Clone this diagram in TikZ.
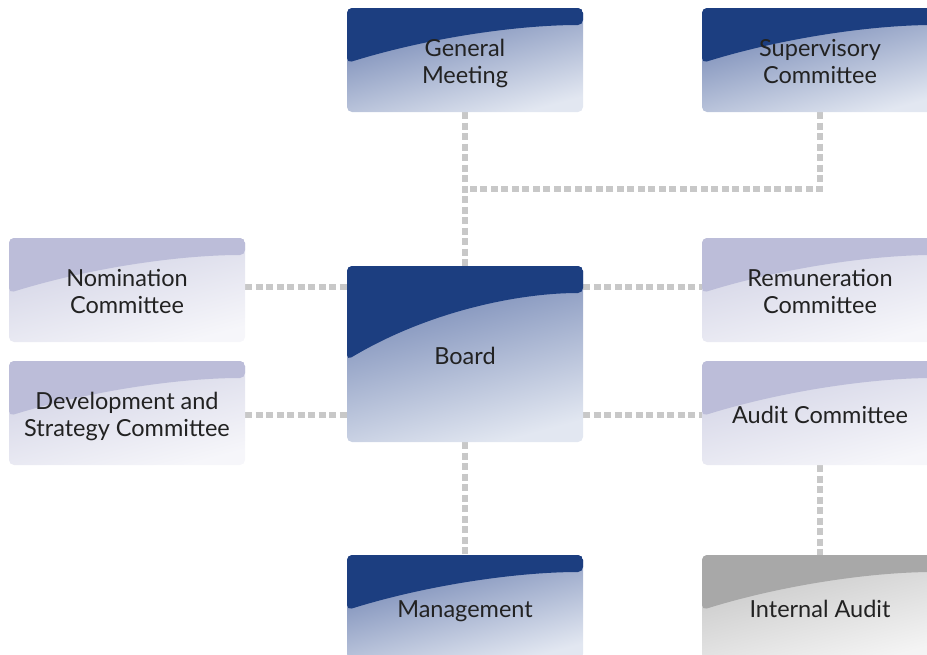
\documentclass[tikz,border=0pt]{standalone}
\usepackage{fontspec}
\setmainfont{Lato}
\usetikzlibrary{calc,backgrounds}
\definecolor{darkband}{RGB}{28,62,128}
\definecolor{darktop}{RGB}{108,128,176}
\definecolor{darkbot}{RGB}{226,231,241}
\definecolor{lightband}{RGB}{188,189,217}
\definecolor{lighttop}{RGB}{208,209,228}
\definecolor{lightbot}{RGB}{246,246,250}
\definecolor{grayband}{RGB}{168,168,168}
\definecolor{graytop}{RGB}{196,196,196}
\definecolor{graybot}{RGB}{244,244,244}
\definecolor{conncol}{RGB}{200,200,200}
\definecolor{txt}{RGB}{34,34,34}
\newcommand\boxtxt[1]{\vbox{\kern9pt\hbox{\begin{tabular}{@{}c@{}}#1\end{tabular}}}}
\tikzset{
  boxbase/.style={rectangle, rounded corners=5pt, minimum width=236pt, minimum height=104pt,
    inner sep=0pt, text=txt, font=\fontsize{23.5}{27.5}\selectfont},
  band/.style n args={4}{path picture={
    \fill[#1] (path picture bounding box.north west) -- (path picture bounding box.north east)
      -- ($(path picture bounding box.north east)+(0,#3)$)
      .. controls ($(path picture bounding box.north east)+(-66,#3)$)
      and ($(path picture bounding box.north west)+(80,#4)$)
      .. ($(path picture bounding box.north west)+(0,#2)$) -- cycle;}},
  darkbox/.style={boxbase, top color=darktop, bottom color=darkbot, shading angle=15,
    band={darkband}{55}{17}{30}},
  lightbox/.style={boxbase, top color=lighttop, bottom color=lightbot, shading angle=15,
    band={lightband}{55}{17}{30}},
  graybox/.style={boxbase, top color=graytop, bottom color=graybot, shading angle=15,
    band={grayband}{55}{17}{30}},
  conn/.style={draw=conncol, line width=6.5pt, dash pattern=on 7pt off 3.5pt}
}
\begin{document}
\begin{tikzpicture}[x=1pt,y=-1pt]
\path[use as bounding box] (0,0) rectangle (927,654);
\begin{scope}
\clip (0,0) rectangle (927,654);
\node[darkbox] (gm) at (465,60) {\boxtxt{General\\Meeting}};
\node[darkbox] (sup) at (820,60) {\boxtxt{Supervisory\\Committee}};
\node[lightbox] (nom) at (127,290) {\boxtxt{Nomination\\Committee}};
\node[lightbox] (dev) at (127,413) {\boxtxt{Development and\\Strategy Committee}};
\node[darkbox, minimum height=176pt, band={darkband}{94}{27}{46}] (board) at (465,354) {\boxtxt{Board}};
\node[lightbox] (rem) at (820,290) {\boxtxt{Remuneration\\Committee}};
\node[lightbox] (aud) at (820,413) {\boxtxt{Audit Committee}};
\node[darkbox] (mgmt) at (465,607) {\boxtxt{Management}};
\node[graybox] (ia) at (820,607) {\boxtxt{Internal Audit}};
\coordinate (junc) at (465,189);
\end{scope}
\begin{scope}[on background layer]
\draw[conn] (gm.south) -- (board.north);
\draw[conn] (sup.south) |- (junc);
\draw[conn] ([yshift=3pt]nom.east) -- ([yshift=3pt]nom.east -| board.west);
\draw[conn] ([yshift=-2pt]dev.east) -- ([yshift=-2pt]dev.east -| board.west);
\draw[conn] ([yshift=3pt]rem.west -| board.east) -- ([yshift=3pt]rem.west);
\draw[conn] ([yshift=-2pt]aud.west -| board.east) -- ([yshift=-2pt]aud.west);
\draw[conn] (board.south) -- (mgmt.north);
\draw[conn] (aud.south) -- (ia.north);
\end{scope}
\end{tikzpicture}
\end{document}
